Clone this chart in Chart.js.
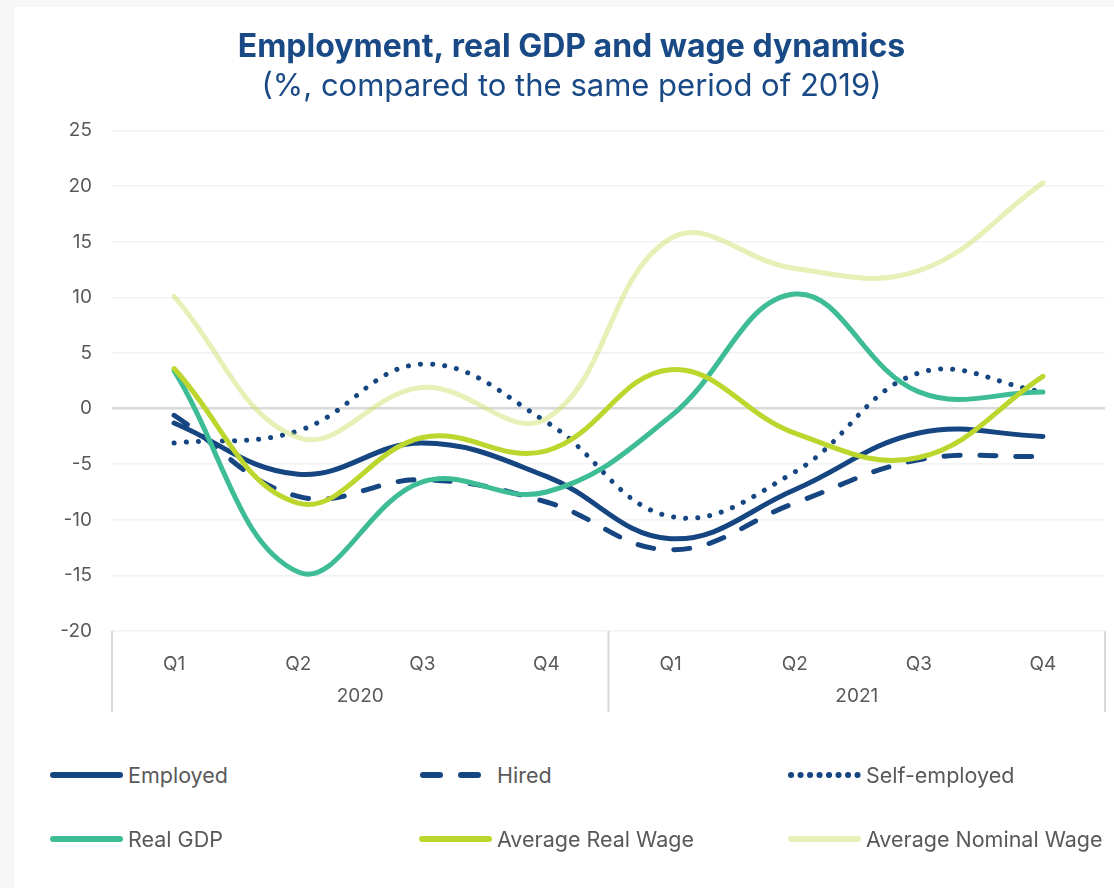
<!DOCTYPE html>
<html>
<head>
<meta charset="utf-8">
<script src="https://cdn.jsdelivr.net/npm/chart.js@4.4.1/dist/chart.umd.min.js"></script>
<style>
    html, body {
        margin: 0;
        padding: 0;
        background: #f7f7f7;
        font-family: "Inter", sans-serif;
    }
    .panel {
        position: absolute;
        left: 14px;
        top: 7px;
        width: 1100px;
        height: 881px;
        background: #ffffff;
    }
    .chartBox {
        position: relative;
        width: 1100px;
        height: 724px;
    }
    .legend {
        position: absolute;
        left: 35px;
        top: 744px;
        display: grid;
        grid-template-columns: 369px 369px 340px;
        grid-auto-rows: 64px;
        color: #595959;
        font-size: 21.5px;
    }
    .legendItem {
        display: flex;
        align-items: center;
        height: 48px;
        white-space: nowrap;
    }
    .legendItem canvas {
        margin-right: 3px;
    }
</style>
</head>
<body>
<div class="panel">
    <div class="chartBox"><canvas id="dynamicsChart"></canvas></div>
    <div class="legend" id="legend"></div>
</div>
<script>
    const quarters = ["Q1", "Q2", "Q3", "Q4", "Q1", "Q2", "Q3", "Q4"];
    const years = ["2020", "2021"];

    const employed = [-1.3, -5.9, -3.1, -6.1, -11.7, -7.3, -2.2, -2.5];
    const hired = [-0.6, -7.9, -6.4, -8.4, -12.7, -8.5, -4.6, -4.3];
    const selfEmployed = [-3.1, -2.0, 4.0, -1.2, -9.7, -5.7, 3.2, 1.5];
    const realGdp = [3.4, -14.7, -6.6, -7.5, -0.7, 10.3, 1.5, 1.5];
    const avgRealWage = [3.6, -8.5, -2.6, -3.8, 3.5, -2.2, -4.4, 2.9];
    const avgNominalWage = [10.1, -2.6, 1.9, -0.9, 15.3, 12.6, 12.4, 20.3];

    const yTicks = [-20, -15, -10, -5, 0, 5, 10, 15, 20, 25];

    const navy = "#154682";
    const textGrey = "#595959";
    const fontFamily = "Inter";

    const line = (label, data, color, dash, order) => ({
        label: label,
        data: data,
        borderColor: color,
        backgroundColor: color,
        borderWidth: 5,
        borderDash: dash,
        borderCapStyle: "round",
        tension: 0.4,
        pointRadius: 0,
        fill: false,
        order: order,
    });

    const datasets = [
        line("Employed", employed, navy, [], 3),
        line("Hired", hired, navy, [16, 20], 4),
        line("Self-employed", selfEmployed, navy, [0.1, 12], 5),
        line("Real GDP", realGdp, "#3dbc95", [], 2),
        line("Average Real Wage", avgRealWage, "#bdd62e", [], 1),
        line("Average Nominal Wage", avgNominalWage, "rgba(205, 225, 111, 0.5)", [], 0),
    ];

    // vertical separators between the year groups under the plot
    const groupLines = {
        id: "groupLines",
        afterDraw(chart) {
            const {ctx, chartArea, scales} = chart;
            const x = scales.x;
            const mid = (x.getPixelForValue(3) + x.getPixelForValue(4)) / 2;
            ctx.save();
            ctx.strokeStyle = "#d9d9d9";
            ctx.lineWidth = 2;
            [chartArea.left, mid, chartArea.right].forEach(px => {
                ctx.beginPath();
                ctx.moveTo(px, chartArea.bottom);
                ctx.lineTo(px, chartArea.bottom + 81);
                ctx.stroke();
            });
            ctx.restore();
        }
    };

    const chart = new Chart(document.getElementById("dynamicsChart").getContext("2d"), {
        type: "line",
        data: {labels: quarters, datasets: datasets},
        options: {
            responsive: true,
            maintainAspectRatio: false,
            animation: false,
            layout: {padding: {left: 24, right: 9, top: 0, bottom: 20}},
            plugins: {
                legend: {display: false},
                tooltip: {enabled: false},
                title: {
                    display: true,
                    text: "Employment, real GDP and wage dynamics",
                    color: "#1a4a86",
                    font: {family: fontFamily, size: 32, weight: "bold", lineHeight: 1.2},
                    padding: {top: 21, bottom: 2},
                },
                subtitle: {
                    display: true,
                    text: "(%, compared to the same period of 2019)",
                    color: "#1a4a86",
                    font: {family: fontFamily, size: 31, weight: "normal", lineHeight: 1.2},
                    padding: {top: 0, bottom: 25},
                },
            },
            scales: {
                y: {
                    min: -20,
                    max: 25,
                    afterFit: scale => { scale.width = 74; },
                    afterBuildTicks: scale => { scale.ticks = yTicks.map(v => ({value: v})); },
                    border: {display: false},
                    grid: {
                        drawTicks: false,
                        color: c => c.tick.value === 0 ? "#d9d9d9" : "#f2f2f2",
                        lineWidth: c => c.tick.value === 0 ? 2.5 : 1.5,
                    },
                    ticks: {
                        padding: 20,
                        color: textGrey,
                        font: {family: fontFamily, size: 19},
                    },
                },
                x: {
                    offset: true,
                    afterFit: scale => { scale.height = 40; },
                    border: {display: false},
                    grid: {display: false},
                    ticks: {
                        padding: 14,
                        color: textGrey,
                        font: {family: fontFamily, size: 19},
                        maxRotation: 0,
                    },
                },
                year: {
                    type: "category",
                    labels: years,
                    position: "bottom",
                    offset: true,
                    afterFit: scale => { scale.height = 40; },
                    border: {display: false},
                    grid: {display: false},
                    ticks: {
                        padding: 6,
                        color: textGrey,
                        font: {family: fontFamily, size: 19},
                    },
                },
            },
        },
        plugins: [groupLines],
    });

    // legend in three columns with the same line styles as the series
    const legendBox = document.getElementById("legend");
    chart.data.datasets.forEach(ds => {
        const item = document.createElement("div");
        item.className = "legendItem";
        const sample = document.createElement("canvas");
        sample.width = 76;
        sample.height = 12;
        const g = sample.getContext("2d");
        g.strokeStyle = ds.borderColor;
        g.lineWidth = 6;
        g.lineCap = "round";
        g.setLineDash(ds.label === "Hired" ? [17, 21] : ds.label === "Self-employed" ? [0.1, 9.4] : []);
        g.beginPath();
        g.moveTo(ds.label === "Hired" ? 5 : 4, 6);
        g.lineTo(71, 6);
        g.stroke();
        item.appendChild(sample);
        const text = document.createElement("span");
        text.textContent = ds.label;
        item.appendChild(text);
        legendBox.appendChild(item);
    });
</script>
</body>
</html>
